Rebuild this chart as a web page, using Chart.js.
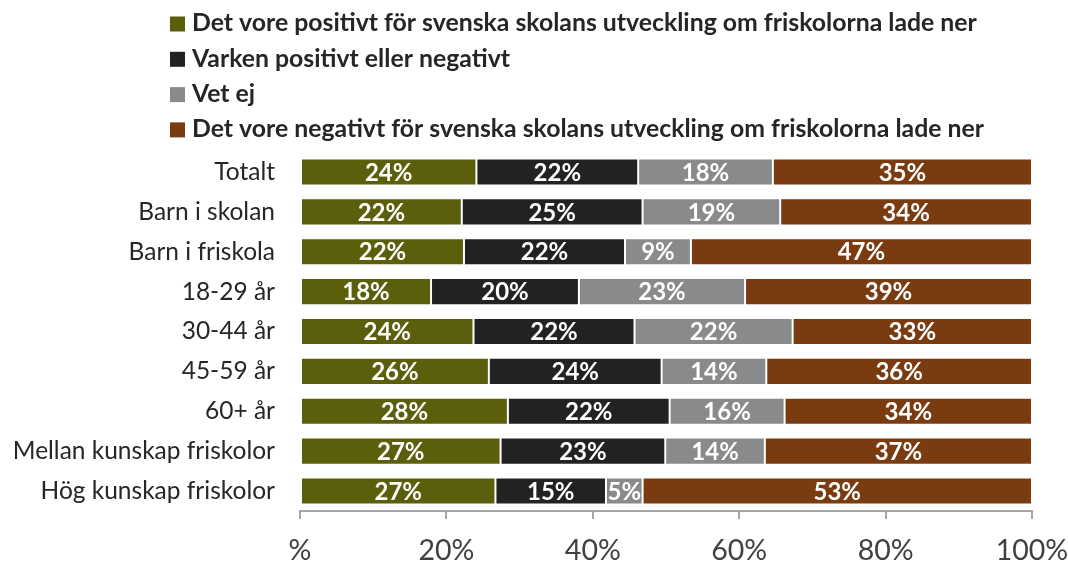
<!DOCTYPE html>
<html>
<head>
<meta charset="utf-8">
<script src="https://cdn.jsdelivr.net/npm/chart.js@4/dist/chart.umd.min.js"></script>
<style>
  html, body { margin: 0; padding: 0; background: #fff; }
  #wrap { width: 1068px; height: 562px; position: relative; }
</style>
</head>
<body>
<div id="wrap"><canvas id="chart"></canvas></div>
<script>
// kategorier och serier (andelar i procent)
const categories = ['Totalt', 'Barn i skolan', 'Barn i friskola', '18-29 år', '30-44 år', '45-59 år', '60+ år', 'Mellan kunskap friskolor', 'Hög kunskap friskolor'];
const seriesNames = [
  'Det vore positivt för svenska skolans utveckling om friskolorna lade ner',
  'Varken positivt eller negativt',
  'Vet ej',
  'Det vore negativt för svenska skolans utveckling om friskolorna lade ner'
];
const positiv = [24.1, 22.1, 22.4, 17.9, 23.7, 25.8, 28.4, 27.4, 26.7];
const varken  = [22.1, 24.7, 22.0, 20.2, 22.0, 23.6, 22.1, 22.5, 15.1];
const vetEj   = [18.4, 18.8, 9.0, 22.7, 21.6, 14.3, 15.7, 13.6, 5.0];
const negativ = [35.4, 34.4, 46.6, 39.2, 32.7, 36.3, 33.8, 36.5, 53.2];
const tickLabels = ['%', '20%', '40%', '60%', '80%', '100%'];

const colors = ['#5b5e0b', '#222222', '#888a8c', '#7a3b10'];
const FONT = 'Lato, "Open Sans", sans-serif';

// etiketter mitt i varje stapelsegment
const barLabels = {
  id: 'barLabels',
  afterDatasetsDraw(chart) {
    const ctx = chart.ctx;
    ctx.save();
    ctx.font = 'bold 24px ' + FONT;
    ctx.fillStyle = '#ffffff';
    ctx.textAlign = 'center';
    ctx.textBaseline = 'middle';
    chart.data.datasets.forEach((ds, i) => {
      chart.getDatasetMeta(i).data.forEach((bar, j) => {
        const cx = (bar.x + bar.base) / 2;
        ctx.fillText(Math.round(ds.data[j]) + '%', cx, bar.y + 1);
      });
    });
    ctx.restore();
  }
};

// legend, en post per rad
const stackedLegend = {
  id: 'stackedLegend',
  afterDraw(chart) {
    const ctx = chart.ctx;
    ctx.save();
    ctx.font = 'bold 24.8px ' + FONT;
    ctx.textBaseline = 'middle';
    chart.data.datasets.forEach((ds, i) => {
      const y = 23.5 + i * 35.3;
      ctx.fillStyle = ds.backgroundColor;
      ctx.fillRect(170, y - 7, 15, 15);
      ctx.fillStyle = '#262626';
      ctx.fillText(ds.label, 192, y);
    });
    ctx.restore();
  }
};

const datasets = [positiv, varken, vetEj, negativ].map((d, i) => ({
  label: seriesNames[i],
  data: d,
  backgroundColor: colors[i],
  borderColor: 'rgba(255,255,255,0.45)',
  borderWidth: 1,
  borderSkipped: false,
  categoryPercentage: 1,
  barPercentage: 0.68
}));

new Chart(document.getElementById('chart'), {
  type: 'bar',
  data: { labels: categories, datasets: datasets },
  options: {
    indexAxis: 'y',
    responsive: true,
    maintainAspectRatio: false,
    animation: false,
    layout: { padding: { top: 152, right: 36, left: 0, bottom: 0 } },
    plugins: {
      legend: { display: false },
      tooltip: { enabled: false }
    },
    scales: {
      x: {
        stacked: true,
        min: 0,
        max: 100,
        afterFit(scale) {
          scale.height = 51;
          scale.paddingLeft = 0;
          scale.paddingRight = 0;
        },
        afterBuildTicks(scale) {
          scale.ticks = tickLabels.map((t, i) => ({ value: i * 20 }));
        },
        ticks: {
          callback: (v, i) => tickLabels[i],
          color: '#404040',
          font: { family: FONT, size: 28.5 },
          padding: 15,
          maxRotation: 0
        },
        grid: { drawOnChartArea: false, drawTicks: true, tickLength: 8, color: '#a6a6a6', lineWidth: 2 },
        border: { display: true, color: '#a6a6a6', width: 2 }
      },
      y: {
        stacked: true,
        afterFit(scale) { scale.width = 300; },
        ticks: {
          color: '#262626',
          font: { family: FONT, size: 24.5 },
          padding: 17
        },
        grid: { display: false },
        border: { display: false }
      }
    }
  },
  plugins: [barLabels, stackedLegend]
});
</script>
</body>
</html>
